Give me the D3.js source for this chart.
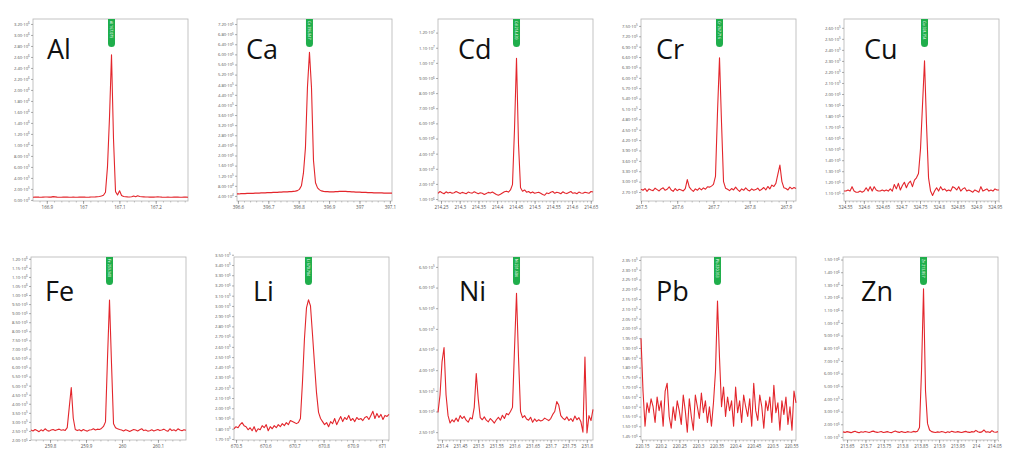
<!DOCTYPE html>
<html>
<head>
<meta charset="utf-8">
<script src="https://cdn.jsdelivr.net/npm/d3@7"></script>
<style>
  body { margin: 0; background: #fff; }
  svg { display: block; }
</style>
</head>
<body>
<svg id="chart" width="1024" height="468"></svg>
<script>
// intensities below are in thousands of counts
const UNIT = 1000;

const elements = ["Al", "Ca", "Cd", "Cr", "Cu", "Fe", "Li", "Ni", "Pb", "Zn"];
const lineLabels = ["Al 167.079", "Ca 396.847", "Cd 214.439", "Cr 267.716", "Cu 324.754",
                    "Fe 259.940", "Li 670.784", "Ni 231.604", "Pb 220.353", "Zn 213.857"];

// wavelength range (nm) covered by each spectrum
const xDomains = [
  [166.862, 167.289], [396.597, 397.107], [214.242, 214.656], [267.5, 267.928], [324.547, 324.961],
  [259.747, 260.178], [670.493, 671.024], [231.389, 231.817], [220.147, 220.563], [213.639, 214.060]
];
const xTicks = [
  [166.9, 167, 167.1, 167.2],
  [396.6, 396.7, 396.8, 396.9, 397, 397.1],
  [214.25, 214.3, 214.35, 214.4, 214.45, 214.5, 214.55, 214.6, 214.65],
  [267.5, 267.6, 267.7, 267.8, 267.9],
  [324.55, 324.6, 324.65, 324.7, 324.75, 324.8, 324.85, 324.9, 324.95],
  [259.8, 259.9, 260, 260.1],
  [670.5, 670.6, 670.7, 670.8, 670.9, 671],
  [231.4, 231.45, 231.5, 231.55, 231.6, 231.65, 231.7, 231.75, 231.8],
  [220.15, 220.2, 220.25, 220.3, 220.35, 220.4, 220.45, 220.5, 220.55],
  [213.65, 213.7, 213.75, 213.8, 213.85, 213.9, 213.95, 214, 214.05]
];

// y ranges (counts) and tick specs [first, last, step]
const yDomains = [
  [-2e4, 3.29e6], [2e4, 7.4e5], [8.7e5, 1.29e7], [2.44e5, 7.7e5], [1.03e5, 2.68e5],
  [2.0e5, 1.21e6], [1.69e5, 3.478e5], [2.31e5, 6.74e5], [1.43e5, 2.365e5], [7.6e4, 1.52e6]
];
const yTickSpecs = [
  [0, 3.2e6, 2e5], [4e4, 7.2e5, 4e4], [1e6, 1.2e7, 1e6], [2.7e5, 7.5e5, 3e4], [1.1e5, 2.6e5, 1e4],
  [2e5, 1.2e6, 5e4], [1.7e5, 3.5e5, 1e4], [2.5e5, 6.5e5, 5e4], [1.45e5, 2.35e5, 5e3], [1e5, 1.5e6, 1e5]
];

const alY = [48,50,52,50,49,51,53,52,50,51, 60,55,50,49,48,50,51,50,49,48,
  50,49,48,50,51,52,50,49,50,52, 53,55,58,62,70,85,140,600,1500,2640,
  1100,150,90,165,80,62,58,55,54,56, 70,58,75,62,56,55,54,52,50,51,
  50,52,58,52,50,49,48,50,49,48, 50,51,50,49,48,50,50,49];

const caY = [48,48,49,49,49,50,50,50,50,51, 51,51,52,52,52,53,53,53,54,54,
  54,55,55,56,56,56,57,57,58,59, 61,66,80,130,230,470,608,470,180,92,
  72,64,60,58,57,57,56,56,56,57, 57,58,58,58,58,57,57,56,56,55,
  55,55,54,54,54,53,53,53,52,52, 52,52,52,51,51,51,51,51];

const cdY = [1380,1500,1420,1350,1480,1400,1450,1380,1420,1500, 1430,1360,1440,1400,1350,1460,1420,1390,1480,1410,
  1350,1420,1380,1300,1370,1440,1400,1460,1380,1300, 1250,1320,1400,1480,1520,1460,1600,1950,5600,10300,
  4600,1750,1520,1600,1450,1500,1400,1470,1380,1420, 1450,1380,1300,1250,1400,1360,1450,1500,1380,1450,
  1420,1350,1480,1400,1360,1430,1500,1380,1420,1350, 1460,1400,1380,1450,1420,1380,1500,1460];

const crY = [278,275,280,272,279,276,274,281,277,273, 279,282,275,278,285,276,272,280,274,278,
  276,273,280,306,284,277,272,279,275,281, 276,282,278,285,284,287,292,315,500,658,
  470,300,281,278,274,280,276,284,277,272, 279,275,282,276,273,279,275,277,281,274,
  278,283,276,286,279,290,286,295,322,348, 300,282,280,276,284,279,283,280];

const cuY = [112,112,113,112,116,112,111,111,112,111, 112,115,112,116,112,116,113,112,112,113,
  112,113,112,114,112,118,114,119,113,117, 120,115,119,121,116,122,124,128,150,190,
  230,172,124,112,108,112,115,112,116,113, 114,112,113,112,116,115,113,116,112,114,
  115,112,113,112,111,113,112,111,116,112, 113,114,112,113,112,114,113,113];

const feY = [255,250,258,252,246,256,250,262,253,249, 255,258,252,256,260,254,257,253,268,380,
  490,320,258,252,256,250,258,253,249,255, 257,262,255,260,258,264,275,300,650,972,
  620,290,268,262,258,255,250,256,252,247, 253,258,255,250,256,262,252,255,249,251,
  256,250,254,258,252,255,260,253,248,262, 252,256,250,262,255,251,257,254];

const liY = [180,182,181,184,186,183,182,179,181,178, 182,177,180,179,183,181,184,178,182,180,
  183,181,184,182,185,183,186,184,188,187, 186,185,186,190,225,268,298,306,300,272,
  243,215,196,190,187,184,186,182,187,185, 190,184,188,192,187,191,189,193,188,190,
  187,191,189,190,188,191,192,189,193,197, 190,195,191,194,189,193,192,194];

const niY = [298,340,420,455,340,290,272,280,275,284, 276,290,283,288,279,274,285,282,310,392,
  330,285,280,287,279,275,283,278,272,280, 286,279,291,283,295,292,300,310,450,586,
  430,300,285,290,282,279,286,274,282,276, 280,277,279,284,281,278,283,293,300,324,
  315,290,284,280,287,278,283,276,289,280, 285,275,250,432,248,290,278,305];

const pbY = [195,168,150,162,157,164,160,152,165,158, 163,150,168,172,155,149,160,153,163,158,
  151,166,158,147,164,155,148,166,160,154, 167,157,163,152,160,150,162,178,214,185,
  160,170,155,165,158,163,150,170,157,163, 152,166,160,155,164,150,172,158,153,166,
  160,149,163,158,165,152,171,157,162,148, 163,156,165,151,160,148,168,162];

const znY = [140,136,142,138,134,140,145,138,133,141, 137,143,139,135,142,146,140,136,139,143,
  135,138,142,137,134,141,147,140,136,143, 138,135,142,139,137,144,140,145,175,620,
  1270,460,205,155,142,138,135,140,137,143, 139,134,141,136,145,140,137,142,138,135,
  140,144,138,136,142,139,152,141,136,140, 155,138,141,135,150,139,137,142];

const series = [alY, caY, cdY, crY, cuY, feY, liY, niY, pbY, znY];

// layout
const rowTops = [19, 257];
const rowBottoms = [201, 440];
const colLefts = [[33, 237, 438, 641, 844], [31, 234, 438, 641, 843]];
const plotW = 155;
const labelDx = [14, 9, 20, 15, 20, 14, 19, 21, 15, 18];
const labelDy = [40, 44];

const svg = d3.select("#chart");

function sci(v) {
  if (Math.abs(v) < 1e-9) return ["0.00", "0"];
  const e = Math.floor(Math.log10(Math.abs(v)) + 1e-9);
  const m = v / Math.pow(10, e);
  return [m.toFixed(2), String(e)];
}

elements.forEach((name, k) => {
  const row = Math.floor(k / 5), col = k % 5;
  const left = colLefts[row][col], top = rowTops[row], bottom = rowBottoms[row];
  const ys = series[k];

  const x = d3.scaleLinear().domain(xDomains[k]).range([left, left + plotW]);
  const y = d3.scaleLinear().domain(yDomains[k]).range([bottom, top]);
  const wl = d3.scaleLinear().domain([0, ys.length - 1]).range(xDomains[k]);

  const g = svg.append("g");

  // frame
  g.append("rect")
    .attr("x", left).attr("y", top)
    .attr("width", plotW).attr("height", bottom - top)
    .attr("fill", "none").attr("stroke", "#b4b4b4").attr("stroke-width", 0.8);

  // x axis, major + minor ticks
  const xt = xTicks[k];
  const st = xt[1] - xt[0];
  const minor = [];
  for (let v = xt[0] - st; v <= xt[xt.length - 1] + st; v += st / 5) {
    const r = +v.toFixed(4);
    if (r >= xDomains[k][0] && r <= xDomains[k][1]) minor.push(r);
  }
  g.append("g")
    .attr("transform", `translate(0,${bottom})`)
    .call(d3.axisBottom(x).tickValues(minor).tickSize(1.5).tickFormat(""))
    .call(a => a.select(".domain").remove())
    .call(a => a.selectAll("line").attr("stroke", "#888").attr("stroke-width", 0.5));

  g.append("g")
    .attr("transform", `translate(0,${bottom})`)
    .call(d3.axisBottom(x).tickValues(xt).tickSize(3).tickPadding(1.5).tickFormat(d3.format("")))
    .call(a => a.select(".domain").remove())
    .call(a => a.selectAll("line").attr("stroke", "#777").attr("stroke-width", 0.6))
    .call(a => a.selectAll("text").attr("font-size", 4.5).attr("fill", "#555")
      .attr("font-family", "Open Sans, sans-serif"));

  // y axis
  const [y0, y1, ys0] = yTickSpecs[k];
  const yt = d3.range(0, Math.round((y1 - y0) / ys0) + 1).map(n => y0 + n * ys0);
  g.append("g")
    .attr("transform", `translate(${left},0)`)
    .call(d3.axisLeft(y).tickValues(yt).tickSize(2).tickPadding(1.2).tickFormat(""))
    .call(a => a.select(".domain").remove())
    .call(a => a.selectAll("line").attr("stroke", "#777").attr("stroke-width", 0.6))
    .call(a => a.selectAll("text")
      .attr("font-size", 4.2).attr("fill", "#555").attr("font-family", "Open Sans, sans-serif")
      .each(function (d) {
        const [m, e] = sci(d);
        const t = d3.select(this);
        t.append("tspan").text(m + "·10");
        t.append("tspan").attr("dy", "-0.45em").attr("font-size", 3).text(e);
      }));

  // spectrum
  const line = d3.line()
    .x((d, i) => x(wl(i)))
    .y(d => y(d * UNIT));
  g.append("path")
    .datum(ys)
    .attr("d", line)
    .attr("fill", "none")
    .attr("stroke", "#e3262c")
    .attr("stroke-width", 1.1)
    .attr("stroke-linejoin", "round");

  // emission line marker
  const iMax = d3.maxIndex(ys);
  const px = x(wl(iMax));
  const pillW = 7, pillH = 28;
  g.append("path")
    .attr("d", `M${px - pillW / 2},${top} V${top + pillH - pillW / 2} A${pillW / 2},${pillW / 2} 0 0 0 ${px + pillW / 2},${top + pillH - pillW / 2} V${top} Z`)
    .attr("fill", "#1fae4b");
  g.append("text")
    .attr("transform", `translate(${px},${top + 2}) rotate(90)`)
    .attr("dy", "0.35em")
    .attr("font-size", 3.6)
    .attr("fill", "#fff")
    .attr("font-family", "Open Sans, sans-serif")
    .text(lineLabels[k]);

  // element name
  g.append("text")
    .attr("x", left + labelDx[k])
    .attr("y", top + labelDy[row])
    .attr("font-size", 27)
    .attr("font-family", "Open Sans, sans-serif")
    .attr("fill", "#111")
    .text(name);
});
</script>
</body>
</html>
